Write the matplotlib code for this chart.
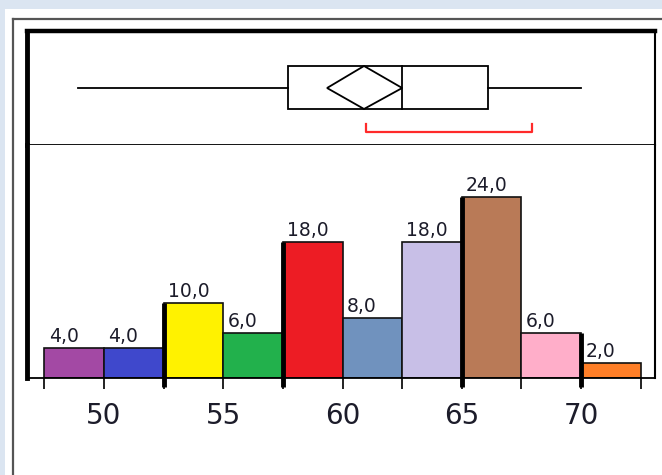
import matplotlib.pyplot as plt
from matplotlib.patches import Rectangle, Polygon
from matplotlib.lines import Line2D
import numpy as np

# histogram data
bin_start = 47.5
bin_width = 2.5
counts = [4, 4, 10, 6, 18, 8, 18, 24, 6, 2]
bar_colors = ['#a349a4', '#3f48cc', '#fff200', '#22b14c', '#ed1c24',
              '#7092be', '#c8bfe7', '#b97a57', '#ffaec9', '#ff7f27']
tick_values = [50, 55, 60, 65, 70]
group_edges = [52.5, 57.5, 65, 70]   # boundaries drawn heavy

# box plot summary
whisker_lo, q1, median, q3, whisker_hi = 48.9, 57.7, 62.5, 66.1, 70.0
mean, mean_lo, mean_hi = 60.9, 59.35, 62.5
short_half = (61.0, 67.95)

W, H = 662, 475
XMIN, XMAX = 46.77, 73.1
YMAX = 30.9
TXT = '#1c1c2a'

def fx(px):
    return px / W

def fy(py):
    return 1 - py / H

fig = plt.figure(figsize=(W / 100, H / 100), dpi=100)
fig.patch.set_facecolor('#dbe5f1')

# white page + gray outer rule
fig.add_artist(Rectangle((fx(5), 0), 1, fy(9), transform=fig.transFigure,
                         facecolor='white', edgecolor='none', zorder=0))
fig.add_artist(Line2D([fx(13), fx(13)], [0, fy(19)], transform=fig.transFigure,
                      color='#555555', lw=1.6))
fig.add_artist(Line2D([fx(13), 1], [fy(19), fy(19)], transform=fig.transFigure,
                      color='#555555', lw=1.6))

left, right = fx(27), fx(655)
ax_box = fig.add_axes([left, fy(145), right - left, fy(31) - fy(145)])
ax = fig.add_axes([left, fy(378), right - left, fy(145) - fy(378)])

# --- box plot panel ---
ax_box.set_xlim(XMIN, XMAX)
ax_box.set_ylim(0, 1)
ax_box.set_xticks([])
ax_box.set_yticks([])
ax_box.spines['top'].set_linewidth(3.2)
ax_box.spines['left'].set_linewidth(3.5)
ax_box.spines['right'].set_linewidth(1.5)
ax_box.spines['bottom'].set_linewidth(1.3)

yb0, yb1, ymid = 0.316, 0.693, 0.5
lw = 1.3
ax_box.plot([whisker_lo, q1], [ymid, ymid], color='black', lw=lw)
ax_box.plot([q3, whisker_hi], [ymid, ymid], color='black', lw=lw)
ax_box.add_patch(Rectangle((q1, yb0), q3 - q1, yb1 - yb0, fill=False,
                           edgecolor='black', lw=lw))
ax_box.plot([median, median], [yb0, yb1], color='black', lw=lw)
ax_box.add_patch(Polygon([(mean_lo, ymid), (mean, yb1), (mean_hi, ymid), (mean, yb0)],
                         closed=True, fill=False, edgecolor='black', lw=lw))
ax_box.plot([short_half[0], short_half[0], short_half[1], short_half[1]],
            [0.184, 0.114, 0.114, 0.184], color='#ff2a2a', lw=1.6)

# --- histogram panel ---
edges = bin_start + bin_width * np.arange(len(counts) + 1)
ax.set_xlim(XMIN, XMAX)
ax.set_ylim(0, YMAX)
ax.bar(edges[:-1], counts, width=bin_width, align='edge', color=bar_colors,
       edgecolor='#111111', linewidth=1.2, zorder=2)

for x0, c in zip(edges[:-1], counts):
    ax.annotate(f'{c:.1f}'.replace('.', ','), (x0, c), xytext=(3, 1.5),
                textcoords='offset points', ha='left', va='bottom',
                fontsize=13.5, color=TXT, zorder=4)

tick_len = 1.15
for xe in group_edges:
    i = int(round((xe - bin_start) / bin_width))
    top = max(counts[i - 1], counts[i]) if i < len(counts) else counts[i - 1]
    ax.plot([xe, xe], [-tick_len, top], color='black', lw=3.5,
            solid_capstyle='butt', clip_on=False, zorder=3)

ax.set_xticks(edges, minor=True)
ax.set_xticks(tick_values)
ax.set_xticklabels([str(v) for v in tick_values], fontsize=20, color=TXT)
ax.tick_params(axis='x', which='both', length=8, width=1.3, color='#111111',
               direction='out')
ax.tick_params(axis='x', which='major', pad=9)
ax.set_yticks([])
ax.spines['top'].set_visible(False)
ax.spines['left'].set_linewidth(3.5)
ax.spines['right'].set_linewidth(1.5)
ax.spines['bottom'].set_linewidth(1.3)

fig.savefig('out.png', dpi=100, facecolor=fig.get_facecolor())
